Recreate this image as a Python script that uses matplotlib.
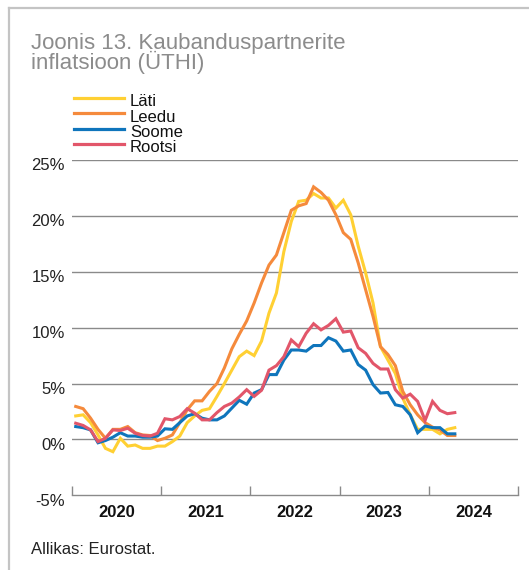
import matplotlib.pyplot as plt
import matplotlib.transforms as mtransforms
from matplotlib.lines import Line2D

# monthly data, Jan 2020 .. Apr 2024 (y/y inflation, %)
lati = [2.1, 2.2, 1.5, 0.4, -0.8, -1.1, 0.1, -0.6, -0.5, -0.8, -0.8, -0.6,
        -0.6, -0.2, 0.3, 1.5, 2.1, 2.6, 2.75, 3.85, 5.0, 6.2, 7.4, 7.9,
        7.5, 8.8, 11.3, 13.1, 16.8, 19.5, 21.3, 21.4, 22.0, 21.6, 21.6, 20.7,
        21.4, 20.1, 17.3, 14.9, 12.2, 8.3, 7.1, 5.9, 3.7, 2.2, 0.9, 0.9,
        0.9, 0.5, 0.9, 1.05]
leedu = [2.95, 2.75, 1.9, 0.9, 0.1, 0.9, 0.9, 1.15, 0.6, 0.4, 0.35, -0.1,
         0.1, 0.4, 1.5, 2.65, 3.45, 3.45, 4.3, 5.0, 6.4, 8.1, 9.4, 10.6,
         12.2, 14.0, 15.6, 16.5, 18.5, 20.5, 20.9, 21.1, 22.6, 22.1, 21.4, 20.1,
         18.5, 17.9, 15.8, 13.4, 11.0, 8.3, 7.6, 6.6, 4.3, 3.1, 2.2, 1.5,
         1.1, 0.85, 0.35, 0.35]
soome = [1.15, 1.05, 0.85, -0.3, -0.1, 0.2, 0.6, 0.3, 0.3, 0.2, 0.2, 0.3,
         0.95, 0.9, 1.5, 2.1, 2.3, 1.9, 1.75, 1.75, 2.1, 2.8, 3.5, 3.15,
         4.15, 4.45, 5.8, 5.8, 7.1, 8.0, 8.0, 7.9, 8.4, 8.4, 9.1, 8.8,
         7.9, 8.0, 6.7, 6.2, 4.9, 4.15, 4.2, 3.1, 2.95, 2.2, 0.6, 1.2,
         1.05, 1.05, 0.5, 0.5]
rootsi = [1.45, 1.25, 0.85, -0.2, 0.1, 0.85, 0.8, 1.0, 0.55, 0.35, 0.3, 0.55,
          1.85, 1.75, 2.05, 2.75, 2.35, 1.75, 1.75, 2.4, 2.95, 3.25, 3.8, 4.45,
          3.85, 4.4, 6.2, 6.6, 7.4, 8.9, 8.3, 9.5, 10.35, 9.8, 10.2, 10.8,
          9.6, 9.7, 8.2, 7.7, 6.8, 6.3, 6.3, 4.45, 3.7, 4.05, 3.4, 1.7,
          3.4, 2.6, 2.3, 2.4]

names = ['Läti', 'Leedu', 'Soome', 'Rootsi']
colors = ['#FFD033', '#F58A3C', '#0F75BC', '#E2566A']
years = ['2020', '2021', '2022', '2023', '2024']
yticks = [-5, 0, 5, 10, 15, 20, 25]
ytick_labels = ['-5%', '0%', '5%', '10%', '15%', '20%', '25%']

plt.rcParams['font.family'] = ['Liberation Sans', 'DejaVu Sans']

W, H = 529, 570
fig = plt.figure(figsize=(W / 100, H / 100), dpi=100)

# frame
fig.add_artist(Line2D([9 / W, 1], [1 - 8 / H, 1 - 8 / H], color='#c4c4c4', lw=1.6))
fig.add_artist(Line2D([9 / W, 9 / W], [0, 1 - 8 / H], color='#c4c4c4', lw=1.6))

# title (two tight lines in one text)
fig.text(31 / W, 1 - 33 / H, 'Joonis 13. Kaubanduspartnerite\ninflatsioon (ÜTHI)',
         color='#8c8c8c', fontsize=16, va='top', ha='left', linespacing=0.82)

# legend, drawn by hand
for k in range(len(names)):
    ly = 97.7 + 15.4 * k
    fig.add_artist(Line2D([74 / W, 124 / W], [1 - ly / H, 1 - ly / H],
                          color=colors[k], lw=2.3))
    fig.text(130 / W, 1 - (ly + 8.5) / H, names[k], fontsize=12, color='#111111',
             va='baseline', ha='left')

ax = fig.add_axes([72 / W, 1 - 495.3 / H, 446 / W, (495.3 - 160) / H])

xs = [i + 0.5 for i in range(len(lati))]
for series, c in zip([lati, leedu, soome, rootsi], colors):
    ax.plot(xs, series, color=c, lw=2.2, solid_joinstyle='miter', zorder=3)

ax.set_xlim(0, 60)
ax.set_ylim(-5, 25)

for s in ['left', 'right', 'top']:
    ax.spines[s].set_visible(False)
ax.spines['bottom'].set_color('#8a8a8a')
ax.spines['bottom'].set_linewidth(1.0)

ax.set_yticks(yticks)
ax.set_yticklabels(ytick_labels)
ax.tick_params(axis='y', length=0, pad=5, labelsize=12, labelcolor='#222222')
for v in yticks[1:]:
    ax.axhline(v, color='#8a8a8a', lw=1.0, zorder=1)
off = mtransforms.ScaledTranslation(0, -4.5 / 100, fig.dpi_scale_trans)
for lab in ax.get_yticklabels():
    lab.set_transform(lab.get_transform() + off)

ax.set_xticks([0, 12, 24, 36, 48, 60])
ax.set_xticklabels([])
ax.tick_params(axis='x', which='major', direction='in', length=6.3,
               color='#8a8a8a', width=1.0)
ax.set_xticks([6, 18, 30, 42, 54], minor=True)
ax.set_xticklabels(years, minor=True, fontweight='bold')
ax.tick_params(axis='x', which='minor', length=0, pad=7, labelsize=12,
               labelcolor='#111111')

fig.text(31 / W, 1 - 549 / H, 'Allikas: Eurostat.', fontsize=12, color='#222222',
         va='center', ha='left')

plt.savefig('out.png', dpi=100)
